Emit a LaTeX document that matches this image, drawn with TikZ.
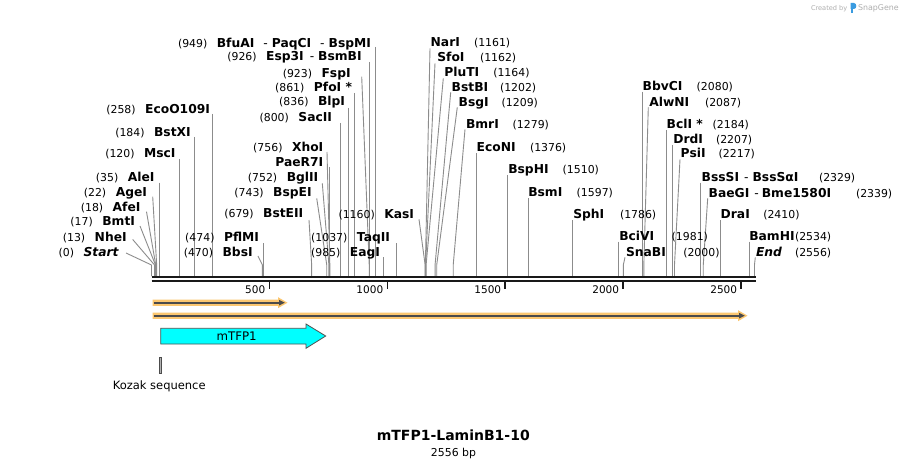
\documentclass[tikz,border=0pt]{standalone}
\usepackage{fontspec}
\setmainfont{DejaVu Sans}
\definecolor{cutgray}{HTML}{8C8C8C}
\definecolor{primerorange}{HTML}{FCC770}
\definecolor{primerdark}{HTML}{4B4B4B}
\definecolor{featcyan}{HTML}{00FFFF}
\definecolor{featedge}{HTML}{505050}
\definecolor{logogray}{HTML}{AEAEAE}
\definecolor{logoblue}{HTML}{3A9BE0}
\newcommand\namef{\fontsize{12.3}{14}\selectfont\bfseries}
\newcommand\numf{\fontsize{10.9}{13}\selectfont\mdseries}
\tikzset{
  cutline/.style={draw=cutgray, line width=0.9pt},
  lab/.style={inner sep=0pt, outer sep=0pt},
  ticklab/.style={inner sep=0pt, anchor=base east, font=\fontsize{10.5}{12}\selectfont},
}
% left style label: (num) Name, anchored at right end of name
\newcommand\Llab[5]{\node[lab, anchor=base east] (l#1) at (#4,#5+4.4) {{\numf(#3)}\hspace{9.5pt}{\namef #2}};}
% right style label: Name (num)
\newcommand\Rlab[6]{\node[lab, anchor=base west] (l#1) at (#4,#6+4.4) {\namef #2};
  \node[lab, anchor=base west] (n#1) at (#5,#6+4.4) {\numf(#3)};}
\newcommand\SlantCut[4]{\coordinate (t#1) at (#3,#4);
  \coordinate (k#1) at ({151.5+0.2359*#2},265);
  \coordinate (s#1) at ({151.5+0.2359*#2},276);
  \draw[cutline] (t#1) -- (k#1) -- (s#1);}
\newcommand\VertCut[3]{\coordinate (t#1) at ({151.5+0.2359*#2},#3);
  \coordinate (s#1) at ({151.5+0.2359*#2},276);
  \draw[cutline] (t#1) -- (s#1);}
\begin{document}
\begin{tikzpicture}[x=1pt,y=-1pt]
\useasboundingbox (0,0) rectangle (908,468);
\fill[white] (0,0) rectangle (908,468);

% ---------- cut-site lines ----------
\SlantCut{Start}{0}{126}{253}
\SlantCut{NheI}{13}{132.7}{239.5}
\SlantCut{BmtI}{17}{140}{226}
\SlantCut{AfeI}{18}{146.5}{211.7}
\SlantCut{AgeI}{22}{152.7}{196.7}
\VertCut{AleI}{35}{182.7}
\VertCut{MscI}{120}{159}
\VertCut{BstXI}{184}{137}
\VertCut{EcoO}{258}{114}
\SlantCut{BbsI}{470}{258}{256}
\VertCut{PflMI}{474}{243}
\SlantCut{BstEII}{679}{309}{220}
\SlantCut{BspEI}{743}{316.7}{198.3}
\SlantCut{BglII}{752}{322.3}{183.3}
\VertCut{PaeR}{756}{167}
\SlantCut{XhoI}{756}{327}{152}
\VertCut{SacII}{800}{123}
\VertCut{BlpI}{836}{108}
\VertCut{PfoI}{861}{93}
\SlantCut{FspI}{923}{361.7}{76.7}
\VertCut{Esp}{926}{62}
\VertCut{BfuAI}{949}{47}
\VertCut{EagI}{985}{257}
\VertCut{TaqII}{1037}{243}
\SlantCut{KasI}{1160}{419}{219.3}
\SlantCut{NarI}{1161}{430}{48.3}
\SlantCut{SfoI}{1162}{435}{63.3}
\SlantCut{PluTI}{1164}{443.3}{78.3}
\SlantCut{BstBI}{1202}{450.7}{92.3}
\SlantCut{BsgI}{1209}{457.3}{107.3}
\SlantCut{BmrI}{1279}{465}{129.3}
\VertCut{EcoNI}{1376}{153.3}
\VertCut{BspHI}{1510}{175}
\VertCut{BsmI}{1597}{198}
\VertCut{SphI}{1786}{220}
\VertCut{BciVI}{1981}{241.7}
\SlantCut{SnaBI}{2000}{625}{257.3}
\VertCut{BbvCI}{2080}{91.7}
\SlantCut{AlwNI}{2087}{648.3}{107.3}
\VertCut{BclI}{2184}{130}
\VertCut{DrdI}{2207}{145}
\SlantCut{PsiI}{2217}{680}{159.3}
\VertCut{BssSI}{2329}{182.7}
\SlantCut{BaeGI}{2339}{707.7}{198.3}
\VertCut{DraI}{2410}{220}
\VertCut{BamHI}{2534}{241.7}
\SlantCut{End}{2556}{755.3}{257.3}

% ---------- labels (left style) ----------
\Llab{Start}{\itshape Start}{0}{118.5}{252}
\Llab{NheI}{NheI}{13}{126.7}{237}
\Llab{BmtI}{BmtI}{17}{135}{221}
\Llab{AfeI}{AfeI}{18}{140.5}{207}
\Llab{AgeI}{AgeI}{22}{147}{192}
\Llab{AleI}{AleI}{35}{154.5}{177}
\Llab{MscI}{MscI}{120}{175.5}{153.5}
\Llab{BstXI}{BstXI}{184}{190.7}{132}
\Llab{EcoO}{EcoO109I}{258}{210}{109}
\Llab{BbsI}{BbsI}{470}{252.7}{252}
\Llab{PflMI}{PflMI}{474}{259}{237}
\Llab{BstEII}{BstEII}{679}{303.3}{213}
\Llab{BspEI}{BspEI}{743}{311.7}{192.3}
\Llab{BglII}{BglII}{752}{318.3}{177.3}
\node[lab, anchor=base east] (lPaeR) at (323.3,162+4.4) {\namef PaeR7I};
\Llab{XhoI}{XhoI}{756}{323.3}{147}
\Llab{SacII}{SacII}{800}{332}{117}
\Llab{BlpI}{BlpI}{836}{345}{101}
\Llab{PfoI}{PfoI *}{861}{352}{87}
\Llab{FspI}{FspI}{923}{350.7}{72.7}
\Llab{Esp}{Esp3I\hspace{6pt}{\mdseries -}\hspace{4pt}BsmBI}{926}{361.7}{56}
\Llab{BfuAI}{BfuAI\hspace{9pt}{\mdseries -}\hspace{4pt}PaqCI\hspace{9pt}{\mdseries -}\hspace{4pt}BspMI}{949}{371}{42.7}
\Llab{EagI}{EagI}{985}{380}{252}
\Llab{TaqII}{TaqII}{1037}{390}{237}
\Llab{KasI}{KasI}{1160}{414}{214}

% ---------- labels (right style) ----------
\Rlab{NarI}{NarI}{1161}{430.7}{474}{42.3}
\Rlab{SfoI}{SfoI}{1162}{437.3}{480}{56.7}
\Rlab{PluTI}{PluTI}{1164}{444.3}{493.3}{72.3}
\Rlab{BstBI}{BstBI}{1202}{451.7}{500}{87.3}
\Rlab{BsgI}{BsgI}{1209}{458.7}{501.7}{102}
\Rlab{BmrI}{BmrI}{1279}{466}{512.7}{124.3}
\Rlab{EcoNI}{EcoNI}{1376}{476.7}{530}{147.3}
\Rlab{BspHI}{BspHI}{1510}{508.3}{562.7}{169}
\Rlab{BsmI}{BsmI}{1597}{528.3}{576.7}{192.3}
\Rlab{SphI}{SphI}{1786}{573.3}{620}{214}
\Rlab{BciVI}{BciVI}{1981}{619.3}{671.7}{236}
\Rlab{SnaBI}{SnaBI}{2000}{626}{683.3}{251.7}
\Rlab{BbvCI}{BbvCI}{2080}{642.7}{696.7}{86}
\Rlab{AlwNI}{AlwNI}{2087}{649.3}{705}{102.3}
\Rlab{BclI}{BclI *}{2184}{666.7}{712.7}{124}
\Rlab{DrdI}{DrdI}{2207}{673.3}{716}{139.3}
\Rlab{PsiI}{PsiI}{2217}{680.7}{718.7}{153.3}
\Rlab{BssSI}{BssSI\hspace{5pt}{\mdseries -}\hspace{4pt}BssSαI}{2329}{701.7}{819}{176.7}
\Rlab{BaeGI}{BaeGI\hspace{5pt}{\mdseries -}\hspace{3pt}Bme1580I}{2339}{708.7}{856}{192.7}
\Rlab{DraI}{DraI}{2410}{720.7}{763.3}{214}
\Rlab{BamHI}{BamHI}{2534}{749.3}{795}{236}
\Rlab{End}{\itshape End}{2556}{756}{795}{251.7}

% ---------- backbone and ruler ----------
\draw[line width=2.7pt, black!90] (151.5,277) -- (755.5,277);
\draw[line width=2.2pt, black!90] (151.5,281.2) -- (755.5,281.2);
\foreach \t in {500,1000,1500,2000,2500}{
  \draw[line width=1.8pt, black!90] ({151.5+0.2359*\t},281.5) -- ({151.5+0.2359*\t},289);
  \node[ticklab] (tick\t) at ({151.5+0.2359*\t-4},293.3) {\t};
}

% ---------- primers ----------
\fill[primerorange] (152.5,299.5) -- (278,299.5) -- (278,297.2) -- (287.5,302.7) -- (278,308.2) -- (278,305.9) -- (152.5,305.9) -- cycle;
\draw[primerdark, line width=1.6pt] (153.5,302.7) -- (280,302.7);
\fill[primerdark] (279,299.8) -- (284.8,302.7) -- (279,305.6) -- cycle;
\fill[primerorange] (152.5,312.5) -- (738,312.5) -- (738,310.2) -- (747.5,315.7) -- (738,321.2) -- (738,318.9) -- (152.5,318.9) -- cycle;
\draw[primerdark, line width=1.6pt] (153.5,315.7) -- (740,315.7);
\fill[primerdark] (739,312.8) -- (744.8,315.7) -- (739,318.6) -- cycle;

% ---------- feature ----------
\draw[fill=featcyan, draw=featedge, line width=0.8pt] (160.7,328.3) -- (306,328.3) -- (306,324) -- (325.7,336) -- (306,348.3) -- (306,344) -- (160.7,344) -- cycle;
\node[lab, font=\fontsize{11.8}{14}\selectfont] (mtfp) at (236.7,336) {mTFP1};

% ---------- Kozak ----------
\draw[fill=black!30, draw=black!70, line width=0.6pt] (159.3,357.3) rectangle (161.5,373.3);
\node[lab, font=\fontsize{11.5}{14}\selectfont] (kozak) at (159.2,386.7) {Kozak sequence};

% ---------- title ----------
\node[lab, anchor=base, font=\fontsize{14}{16}\selectfont\bfseries] (title) at (453.3,440.8) {mTFP1-LaminB1-10};
\node[lab, anchor=base, font=\fontsize{10.9}{13}\selectfont] (size) at (453.5,456.3) {2556 bp};

% ---------- watermark ----------
\node[lab, anchor=base west, text=logogray, font=\fontsize{6.6}{8}\selectfont] (created) at (811,10.5) {Created by};
\fill[logoblue] (850.5,3) rectangle (853,13.5);
\fill[logoblue] (850.5,3) -- (854,3) .. controls (857,3) and (857,9) .. (854,9) -- (850.5,9) -- cycle;
\node[lab, anchor=base west, text=logogray, font=\fontsize{7.9}{9}\selectfont] (snapgene) at (858,11) {SnapGene};
\end{tikzpicture}
\end{document}
